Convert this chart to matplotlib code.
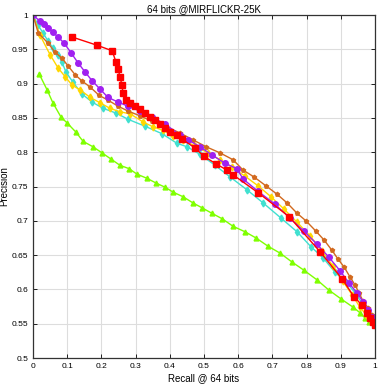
import matplotlib
matplotlib.use('Agg')
import matplotlib.pyplot as plt

# red (squares)
red_x = [0.114, 0.187, 0.231, 0.243, 0.249, 0.254, 0.260, 0.263, 0.272, 0.284, 0.298, 0.313,
         0.327, 0.342, 0.357, 0.371, 0.386, 0.401, 0.421, 0.436, 0.474, 0.500, 0.535, 0.567,
         0.585, 0.658, 0.749, 0.839, 0.904, 0.939, 0.962, 0.977, 0.985, 0.994, 1.0]
red_y = [0.968, 0.956, 0.948, 0.931, 0.921, 0.910, 0.898, 0.886, 0.876, 0.872, 0.867, 0.863,
         0.857, 0.851, 0.847, 0.841, 0.835, 0.829, 0.825, 0.819, 0.806, 0.794, 0.783, 0.774,
         0.767, 0.741, 0.706, 0.655, 0.615, 0.589, 0.577, 0.566, 0.558, 0.552, 0.548]

# purple (circles)
purple_x = [0.0, 0.020, 0.032, 0.044, 0.058, 0.073, 0.091, 0.111, 0.132, 0.152, 0.173, 0.196,
            0.219, 0.249, 0.278, 0.313, 0.348, 0.386, 0.430, 0.453, 0.488, 0.523, 0.561, 0.596,
            0.614, 0.658, 0.708, 0.751, 0.792, 0.830, 0.865, 0.898, 0.924, 0.947, 0.965, 0.980,
            0.991, 1.0]
purple_y = [1.0, 0.991, 0.987, 0.981, 0.975, 0.968, 0.959, 0.945, 0.930, 0.917, 0.904, 0.892,
            0.880, 0.873, 0.867, 0.860, 0.851, 0.841, 0.825, 0.818, 0.808, 0.796, 0.784, 0.776,
            0.761, 0.743, 0.724, 0.704, 0.685, 0.666, 0.647, 0.627, 0.609, 0.595, 0.582, 0.570,
            0.560, 0.548]

# brown
brown_x = [0.0, 0.015, 0.044, 0.064, 0.085, 0.102, 0.123, 0.143, 0.167, 0.193, 0.219, 0.249,
           0.278, 0.313, 0.348, 0.386, 0.430, 0.468, 0.506, 0.547, 0.585, 0.614, 0.646, 0.681,
           0.713, 0.743, 0.772, 0.798, 0.827, 0.851, 0.874, 0.892, 0.909, 0.927, 0.942, 0.953,
           0.965, 0.980, 0.991, 1.0]
brown_y = [1.0, 0.974, 0.959, 0.946, 0.937, 0.926, 0.913, 0.904, 0.895, 0.883, 0.876, 0.867,
           0.860, 0.853, 0.845, 0.838, 0.828, 0.818, 0.808, 0.799, 0.789, 0.774, 0.764, 0.751,
           0.739, 0.726, 0.711, 0.700, 0.685, 0.672, 0.657, 0.644, 0.633, 0.618, 0.606, 0.595,
           0.583, 0.573, 0.563, 0.551]

# yellow
yellow_x = [0.0, 0.02, 0.05, 0.073, 0.094, 0.114, 0.137, 0.167, 0.196, 0.225, 0.254, 0.284,
            0.322, 0.351, 0.380, 0.409, 0.439, 0.474, 0.512, 0.547, 0.582, 0.620, 0.658, 0.696,
            0.734, 0.772, 0.810, 0.845, 0.877, 0.906, 0.933, 0.956, 0.974, 0.988, 1.0]
yellow_y = [1.0, 0.971, 0.942, 0.923, 0.910, 0.898, 0.891, 0.880, 0.872, 0.864, 0.859, 0.856,
            0.844, 0.837, 0.832, 0.824, 0.818, 0.809, 0.799, 0.789, 0.778, 0.765, 0.751, 0.735,
            0.717, 0.698, 0.678, 0.656, 0.634, 0.612, 0.592, 0.574, 0.563, 0.554, 0.548]

# cyan
cyan_x = [0.0, 0.015, 0.029, 0.044, 0.058, 0.073, 0.085, 0.096, 0.117, 0.143, 0.173, 0.205,
          0.243, 0.278, 0.327, 0.377, 0.421, 0.450, 0.488, 0.532, 0.576, 0.626, 0.673, 0.725,
          0.772, 0.813, 0.848, 0.883, 0.918, 0.942, 0.962, 0.977, 0.988, 1.0]
cyan_y = [1.0, 0.985, 0.974, 0.962, 0.952, 0.942, 0.931, 0.917, 0.902, 0.885, 0.873, 0.864,
          0.857, 0.848, 0.838, 0.827, 0.813, 0.808, 0.797, 0.781, 0.764, 0.745, 0.726, 0.704,
          0.684, 0.662, 0.646, 0.625, 0.609, 0.595, 0.580, 0.570, 0.560, 0.548]

# green (triangles)
green_x = [0.018, 0.041, 0.058, 0.082, 0.099, 0.126, 0.146, 0.175, 0.202, 0.228, 0.254, 0.281,
           0.304, 0.333, 0.360, 0.386, 0.409, 0.439, 0.468, 0.494, 0.523, 0.553, 0.585, 0.620,
           0.652, 0.687, 0.722, 0.757, 0.792, 0.830, 0.865, 0.901, 0.936, 0.956, 0.971, 0.982,
           1.0]
green_y = [0.914, 0.891, 0.872, 0.851, 0.843, 0.829, 0.816, 0.808, 0.799, 0.790, 0.781, 0.776,
           0.768, 0.762, 0.755, 0.749, 0.742, 0.735, 0.726, 0.719, 0.711, 0.703, 0.692, 0.684,
           0.675, 0.663, 0.653, 0.640, 0.628, 0.614, 0.599, 0.586, 0.574, 0.566, 0.558, 0.552,
           0.548]

xticks = [0, 0.1, 0.2, 0.3, 0.4, 0.5, 0.6, 0.7, 0.8, 0.9, 1]
xtick_labels = ['0', '0.1', '0.2', '0.3', '0.4', '0.5', '0.6', '0.7', '0.8', '0.9', '1']
yticks = [0.5, 0.55, 0.6, 0.65, 0.7, 0.75, 0.8, 0.85, 0.9, 0.95, 1]
ytick_labels = ['0.5', '0.55', '0.6', '0.65', '0.7', '0.75', '0.8', '0.85', '0.9', '0.95', '1']

plt.rcParams['font.family'] = ['Liberation Sans', 'DejaVu Sans']

fig = plt.figure(figsize=(3.8, 3.86), dpi=100)
ax = fig.add_axes([0.087, 0.0725, 0.9, 0.8885])

ax.plot(green_x, green_y, color='#7FFF00', marker='^', markersize=3.5, linewidth=1)
ax.plot(cyan_x, cyan_y, color='#40E0D0', marker='d', markersize=3.5, linewidth=1)
ax.plot(yellow_x, yellow_y, color='#FFD700', marker='d', markersize=3.5, linewidth=1)
ax.plot(brown_x, brown_y, color='#D2691E', marker='p', markersize=3, linewidth=1)
ax.plot(purple_x, purple_y, color='#A020F0', marker='o', markersize=4, linewidth=1)
ax.plot(red_x, red_y, color='#FF0000', marker='s', markersize=4.5, linewidth=1)

ax.set_xlim(0, 1)
ax.set_ylim(0.5, 1)
ax.set_xticks(xticks)
ax.set_xticklabels(xtick_labels)
ax.set_yticks(yticks)
ax.set_yticklabels(ytick_labels)
ax.tick_params(labelsize=6, direction='in', top=True, right=True, length=3, width=0.6)
ax.grid(True, color='#dddddd', linewidth=0.8)
ax.set_axisbelow(True)
for s in ax.spines.values():
    s.set_linewidth(0.9)
    s.set_color('#333333')

ax.set_title('64 bits @MIRFLICKR-25K', fontsize=7, pad=2)
ax.set_xlabel('Recall @ 64 bits', fontsize=7, labelpad=2)
ax.set_ylabel('Precision', fontsize=7, labelpad=2)

fig.savefig('out.png', dpi=100)
